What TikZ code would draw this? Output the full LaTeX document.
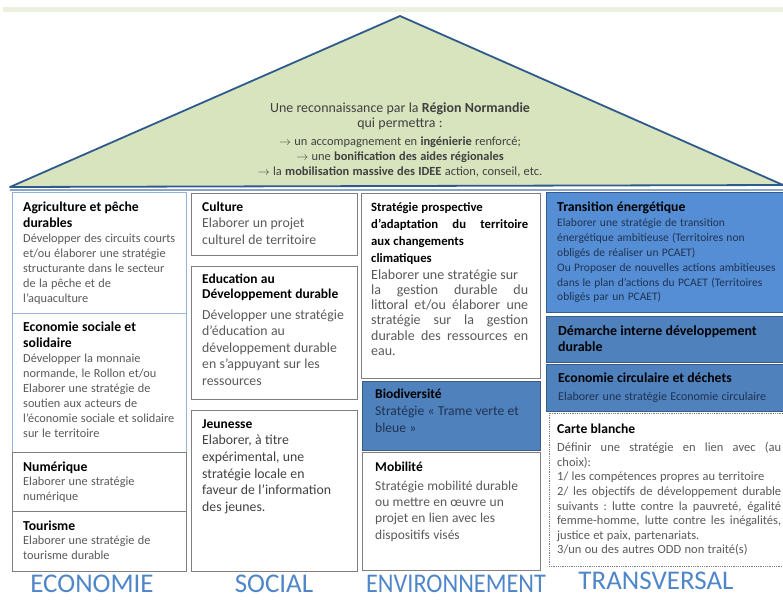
\documentclass[tikz,border=0pt]{standalone}
\usepackage{fontspec}
\setmainfont{Carlito}
\usepackage{tikz}
\usetikzlibrary{calc}
\definecolor{vertciel}{HTML}{EBF1DE}
\definecolor{verttoit}{HTML}{D7E4BD}
\definecolor{bleutrait}{HTML}{2E5A8C}
\definecolor{bleuligne}{HTML}{8BA5C8}
\definecolor{bleuclair}{HTML}{95B3D7}
\definecolor{bleuvif}{HTML}{558ED5}
\definecolor{bleumoyen}{HTML}{4F81BD}
\definecolor{bleufonce}{HTML}{385D8A}
\definecolor{gristexte}{HTML}{595959}
\definecolor{grisbord}{HTML}{7F7F7F}
\definecolor{grisfonce}{HTML}{404040}
\definecolor{encre}{HTML}{1F3352}
\definecolor{bleupilier}{HTML}{4F86CA}
\hyphenpenalty=10000
\exhyphenpenalty=10000
\newcommand{\taille}[2]{\fontsize{#1}{#2}\selectfont}
\newcommand{\etire}[1]{{\spaceskip=\fontdimen2\font plus 1fil\relax\makebox[\hsize][s]{#1}}}
\newcommand{\titrebloc}[3]{{\taille{#1}{#2}\bfseries\color{black}#3\par}}
\newcommand{\corpsbloc}[3]{{\taille{#1}{#2}#3\par}}
\tikzset{
    cadreclair/.style={draw=bleuclair, line width=0.9pt},
    cadregris/.style={draw=grisbord, line width=0.9pt},
    cadrebleu/.style={draw=bleufonce, fill=bleumoyen, line width=0.8pt},
    cadrevif/.style={draw=bleufonce, fill=bleuvif, line width=0.8pt},
    cadrepoint/.style={draw=grisbord, densely dotted, line width=0.8pt},
    texte/.style={anchor=base west, inner sep=0pt, align=left, text=gristexte},
    texteb/.style={texte, text=encre},
    pilier/.style={anchor=base, inner sep=0pt, text depth=0pt, text=bleupilier, font=\taille{27}{27}},
  }

\begin{document}
\begin{tikzpicture}[x=1pt,y=-1pt]
				  \useasboundingbox (0,0) rectangle (783,600);

				  %TOIT
				  \fill[vertciel] (3,7) rectangle (783,12);
				  \draw[bleutrait, line width=1.8pt, fill=verttoit, line join=round] (10,187) -- (400,16) -- (783,185) -- cycle;
				  \draw[bleuligne, line width=1.5pt] (10,190) -- (783,190);
				  \node[anchor=base, inner sep=0pt, text width=340pt, align=center, text=grisfonce] (toit) at (400,112)
				       {{\taille{13.9}{15}Une reconnaissance par la \textbf{Région Normandie}\\qui permettra :\par}
				        \vspace{3pt}
				        {\taille{12.4}{15}$\rightarrow$ un accompagnement en \textbf{ingénierie} renforcé;\\
				         $\rightarrow$ une \textbf{bonification des aides régionales}\\
				         $\rightarrow$ la \textbf{mobilisation massive des IDEE} action, conseil, etc.\par}};

				  %ECONOMIE
				  \draw[cadreclair] (12,192) rectangle (186,313);
				  \node[texte, text width=160pt] (agri) at (23,211)
				       {\titrebloc{13.7}{16}{Agriculture et pêche\\durables}
				        \corpsbloc{12.3}{15}{Développer des circuits courts\\et/ou élaborer une stratégie\\structurante dans le secteur\\de la pêche et de\\l'aquaculture}};
				  \draw[cadreclair] (12,313) rectangle (186,452);
				  \node[texte, text width=160pt] (ess) at (23,331)
				       {\titrebloc{13.7}{16}{Economie sociale et\\solidaire}
				        \corpsbloc{12.3}{15}{Développer la monnaie\\normande, le Rollon et/ou\\Elaborer une stratégie de\\soutien aux acteurs de\\l'économie sociale et solidaire\\sur le territoire}};
				  \draw[cadregris] (12,452) rectangle (186,511);
				  \node[texte, text width=160pt] (num) at (23,471)
				       {\titrebloc{13.7}{16}{Numérique}
				        \corpsbloc{12.3}{14.5}{Elaborer une stratégie\\numérique}};
				  \draw[cadregris] (12,511) rectangle (186,571);
				  \node[texte, text width=160pt] (tour) at (23,530)
				       {\titrebloc{13.7}{16}{Tourisme}
				        \corpsbloc{12.3}{14.5}{Elaborer une stratégie de\\tourisme durable}};

				  %SOCIAL
				  \draw[cadregris] (191,193) rectangle (357,255);
				  \node[texte, text width=152pt] (cult) at (202,211)
				       {\titrebloc{13.5}{15}{Culture}
				        \corpsbloc{13.8}{16.7}{Elaborer un projet\\culturel de territoire}};
				  \draw[cadregris] (191,266) rectangle (357,399);
				  \node[texte, text width=152pt] (educ) at (202,283)
				       {\titrebloc{13.5}{15.5}{Education au\\Développement durable}
				        \vspace{4pt}
				        \corpsbloc{13.8}{16.6}{Développer une stratégie\\d'éducation au\\développement durable\\en s'appuyant sur les\\ressources}};
				  \draw[cadregris] (191,410) rectangle (357,571);
				  \node[texte, text width=152pt, text=grisfonce] (jeun) at (202,428)
				       {\titrebloc{13.5}{15}{Jeunesse}
				        \corpsbloc{13.8}{16.7}{Elaborer, à titre\\expérimental, une\\stratégie locale en\\faveur de l'information\\des jeunes.}};

				  %ENVIRONNEMENT
				  \draw[cadregris] (361,193) rectangle (540,378);
				  \node[texte, text width=157pt] (strat) at (371,211)
				       {\titrebloc{12.7}{17}{Stratégie prospective\\\etire{d'adaptation du territoire}\\aux changements\\climatiques}
				        \vspace{2pt}
				        \corpsbloc{14}{15.2}{Elaborer une stratégie sur\\\etire{la gestion durable du}\\\etire{littoral et/ou élaborer une}\\\etire{stratégie sur la gestion}\\\etire{durable des ressources en}\\eau.}};
				  \draw[cadrebleu] (362,381) rectangle (540,450);
				  \node[texteb, text width=157pt] (biodiv) at (375,398)
				       {\titrebloc{13.5}{17}{Biodiversité}
				        \corpsbloc{13.6}{17}{Stratégie « Trame verte et\\bleue »}};
				  \draw[cadregris] (362,452) rectangle (540,570);
				  \node[texte, text width=157pt] (mob) at (375,471)
				       {\titrebloc{13.5}{16}{Mobilité}
				        \vspace{3pt}
				        \corpsbloc{13.5}{16.3}{Stratégie mobilité durable\\ou mettre en œuvre un\\projet en lien avec les\\dispositifs visés}};

				  %TRANSVERSAL
				  \draw[cadrevif] (546,192) rectangle (783,312);
				  \node[texteb, text width=224pt] (trans) at (557,211)
				       {\titrebloc{13.7}{16}{Transition énergétique}
				        \vspace{1pt}
				        \corpsbloc{11.5}{14.8}{Elaborer une stratégie de transition\\énergétique ambitieuse (Territoires non\\obligés de réaliser un PCAET)\\Ou Proposer de nouvelles actions ambitieuses\\dans le plan d'actions du PCAET (Territoires\\obligés par un PCAET)}};
				  \draw[cadrebleu] (546,316) rectangle (783,362);
				  \node[texteb, text width=224pt] (dema) at (558,335)
				       {\titrebloc{13.9}{16}{Démarche interne développement\\durable}};
				  \draw[cadrebleu] (546,364) rectangle (783,411);
				  \node[texteb, text width=224pt] (ecocirc) at (558,382)
				       {\titrebloc{13.7}{18}{Economie circulaire et déchets}
				        \corpsbloc{12}{18}{Elaborer une stratégie Economie circulaire}};
				  \draw[cadrepoint] (549,413) rectangle (783,566);
				  \node[texte, text width=224pt] (carte) at (557,433)
				       {\titrebloc{13.6}{16}{Carte blanche}
				        \vspace{4pt}
				        \corpsbloc{12.5}{14.6}{\etire{Définir une stratégie en lien avec (au}\\choix):\\1/ les compétences propres au territoire\\\etire{2/ les objectifs de développement durable}\\\etire{suivants : lutte contre la pauvreté, égalité}\\\etire{femme-homme, lutte contre les inégalités,}\\justice et paix, partenariats.\\3/un ou des autres ODD non traité(s)}};

				  %PILIERS
				  \node[pilier] (eco) at (92,592) {ECONOMIE};
				  \node[pilier] (soc) at (274,592) {SOCIAL};
				  \node[pilier] (env) at (456,592) {\scalebox{0.9}[1]{ENVIRONNEMENT}};
				  \node[pilier] (tra) at (656,589) {TRANSVERSAL};
\end{tikzpicture}
\end{document}
